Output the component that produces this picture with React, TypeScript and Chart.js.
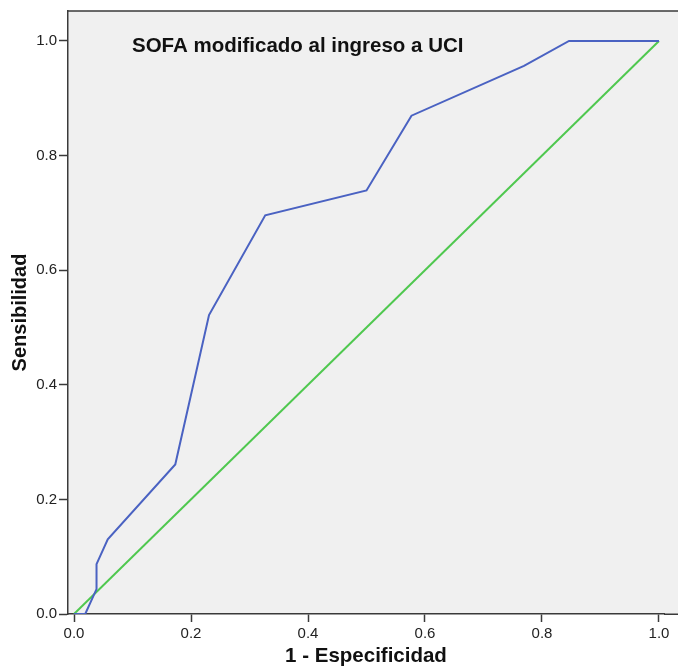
import React, { useEffect, useRef } from "react";
import { Chart, registerables } from "chart.js";

Chart.register(...registerables);

const chartTitle = "SOFA modificado al ingreso a UCI";
const xAxisTitle = "1 - Especificidad";
const yAxisTitle = "Sensibilidad";

// ROC curve: 1 - specificity (x) and sensitivity (y)
const rocFpr = [0, 0.0192, 0.0385, 0.0385, 0.0577, 0.1731, 0.2308, 0.3269, 0.5, 0.5769, 0.7692, 0.8462, 1.0];
const rocTpr = [0, 0, 0.0435, 0.087, 0.1304, 0.2609, 0.5217, 0.6957, 0.7391, 0.8696, 0.9565, 1.0, 1.0];

// Reference diagonal
const refX = [0, 1];
const refY = [0, 1];

const xTicks = [0, 0.2, 0.4, 0.6, 0.8, 1.0];
const yTicks = [0, 0.2, 0.4, 0.6, 0.8, 1.0];

const FONT = '"Liberation Sans", Arial, sans-serif';
const AXIS_COLOR = "#3a3a3a";

const bgPlugin = {
  id: "plotBg",
  beforeDraw(chart: any) {
    const { ctx, chartArea } = chart;
    ctx.save();
    ctx.fillStyle = "#f0f0f0";
    ctx.fillRect(chartArea.left, chartArea.top, chart.width - chartArea.left, chartArea.bottom - chartArea.top);
    ctx.strokeStyle = AXIS_COLOR;
    ctx.lineWidth = 1.5;
    ctx.lineCap = "butt";
    ctx.beginPath();
    ctx.moveTo(chartArea.left, chartArea.top);
    ctx.lineTo(chart.width, chartArea.top);
    ctx.stroke();
    ctx.restore();
  },
  afterDraw(chart: any) {
    const { ctx, chartArea } = chart;
    const xScale = chart.scales.x;
    const yb = Math.round(chartArea.bottom) + 0.25;
    ctx.save();
    ctx.strokeStyle = AXIS_COLOR;
    ctx.lineWidth = 1.5;
    ctx.lineCap = "butt";
    ctx.beginPath();
    ctx.moveTo(xScale.right, yb);
    ctx.lineTo(chart.width, yb);
    ctx.stroke();
    ctx.restore();
  },
  afterDatasetsDraw(chart: any) {
    const { ctx, chartArea } = chart;
    ctx.save();
    ctx.fillStyle = "#111";
    ctx.font = `bold 20.5px ${FONT}`;
    ctx.textAlign = "left";
    ctx.textBaseline = "alphabetic";
    ctx.fillText(chartTitle, chartArea.left + 64, chartArea.top + 40.5);
    ctx.restore();
  },
};

export default function App() {
  const ref = useRef<HTMLCanvasElement | null>(null);

  useEffect(() => {
    document.body.style.margin = "0";
    const canvas = ref.current;
    if (!canvas) return;
    const chart = new Chart(canvas, {
      type: "scatter",
      data: {
        datasets: [
          {
            label: "Referencia",
            data: refX.map((x, i) => ({ x, y: refY[i] })),
            showLine: true,
            borderColor: "#4fc84f",
            borderWidth: 2,
            pointRadius: 0,
            fill: false,
            order: 2,
          },
          {
            label: "SOFA modificado",
            data: rocFpr.map((x, i) => ({ x, y: rocTpr[i] })),
            showLine: true,
            borderColor: "#4a62c2",
            borderWidth: 2,
            pointRadius: 0,
            fill: false,
            order: 1,
          },
        ],
      },
      options: {
        responsive: false,
        animation: false,
        layout: { padding: { top: 10, right: 14, left: 0, bottom: 0 } },
        plugins: {
          legend: { display: false },
          tooltip: { enabled: false },
        },
        scales: {
          x: {
            type: "linear",
            min: -0.01026,
            max: 1.00855,
            afterFit(scale: any) {
              scale.height = 56;
            },
            afterBuildTicks(scale: any) {
              scale.ticks = xTicks.map((v) => ({ value: v }));
            },
            ticks: {
              color: "#222",
              font: { size: 15, family: FONT },
              padding: 3,
              maxRotation: 0,
              autoSkip: false,
              callback: (v: any) => Number(v).toFixed(1),
            },
            grid: {
              drawOnChartArea: false,
              drawTicks: true,
              tickLength: 8,
              tickColor: AXIS_COLOR,
              tickWidth: 1.5,
            },
            border: { display: true, color: AXIS_COLOR, width: 1.5 },
            title: {
              display: true,
              text: xAxisTitle,
              color: "#111",
              font: { size: 20.5, weight: "bold", family: FONT },
              padding: { top: 0, bottom: 1 },
            },
          },
          y: {
            type: "linear",
            min: 0,
            max: 1.05226,
            afterFit(scale: any) {
              scale.width = 68;
            },
            afterBuildTicks(scale: any) {
              scale.ticks = yTicks.map((v) => ({ value: v }));
            },
            ticks: {
              color: "#222",
              font: { size: 15, family: FONT },
              padding: 2,
              autoSkip: false,
              callback: (v: any) => Number(v).toFixed(1),
            },
            grid: {
              drawOnChartArea: false,
              drawTicks: true,
              tickLength: 9,
              tickColor: AXIS_COLOR,
              tickWidth: 1.5,
            },
            border: { display: true, color: AXIS_COLOR, width: 1.5 },
            title: {
              display: true,
              text: yAxisTitle,
              color: "#111",
              font: { size: 20, weight: "bold", family: FONT },
              padding: { top: 8, bottom: 0 },
            },
          },
        },
      },
      plugins: [bgPlugin],
    } as any);
    return () => chart.destroy();
  }, []);

  return (
    <div style={{ position: "absolute", left: 0, top: 0, width: 678, height: 670, background: "#fff" }}>
      <canvas ref={ref} width={678} height={670} style={{ display: "block", width: 678, height: 670 }} />
    </div>
  );
}
